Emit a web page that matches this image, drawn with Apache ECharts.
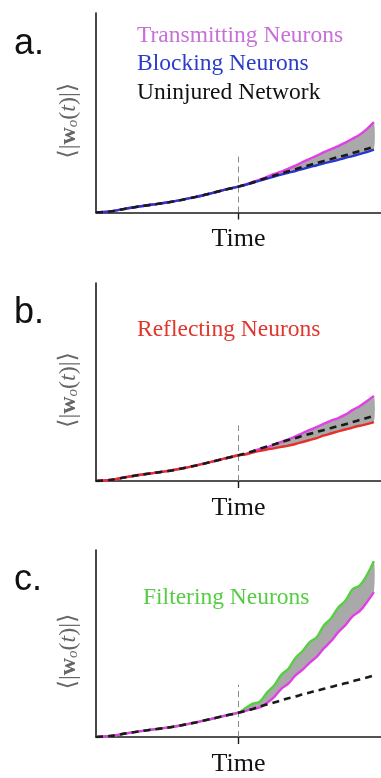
<!DOCTYPE html>
<html>
<head>
<meta charset="utf-8">
<script src="https://cdn.jsdelivr.net/npm/echarts@6/dist/echarts.min.js"></script>
<style>
html,body{margin:0;padding:0;background:#fff;}
#chart{width:381px;height:778px;}
</style>
</head>
<body>
<div id="chart"></div>
<script>
// ---- data (time in arbitrary units, y = <|w_o(t)|> in arbitrary units) ----
const time = [0,5,10,15,20,25,30,35,40,45,50,52.5,55,57.5,60,62.5,65,67.5,70,72.5,75,77.5,80,82.5,85,87.5,90,92.5,95,97.5];
const early = [0,0.05,0.18,0.3,0.4,0.5,0.63,0.78,0.95,1.13];
const uninjured = early.concat([1.3,1.4,1.5,1.63,1.74,1.85,1.96,2.07,2.17,2.28,2.38,2.48,2.58,2.68,2.78,2.87,2.98,3.08,3.18,3.3]);
const aTransmitting = early.concat([1.3,1.4,1.53,1.65,1.79,1.93,2.05,2.2,2.35,2.53,2.69,2.85,3.03,3.18,3.33,3.5,3.7,3.9,4.18,4.53]);
const aBlocking = early.concat([1.3,1.39,1.49,1.6,1.7,1.8,1.9,1.99,2.08,2.18,2.28,2.37,2.47,2.55,2.64,2.74,2.83,2.93,3.03,3.15]);
const bTransmitting = early.concat([1.3,1.35,1.5,1.62,1.7,1.84,1.98,2.1,2.25,2.42,2.58,2.73,2.9,3.05,3.18,3.35,3.58,3.78,4.03,4.3]);
const bReflecting = early.concat([1.3,1.35,1.44,1.52,1.59,1.65,1.72,1.79,1.87,1.97,2.07,2.17,2.3,2.4,2.51,2.6,2.7,2.79,2.87,2.97]);
const cFiltering = early.concat([1.3,1.55,1.78,1.9,2.38,2.75,3.33,3.65,4.23,4.6,5.08,5.35,5.98,6.35,6.93,7.28,7.9,8.1,8.65,9.4]);
const cTransmitting = early.concat([1.3,1.4,1.5,1.58,1.83,2.13,2.58,2.85,3.3,3.6,3.98,4.3,4.75,5.13,5.6,5.98,6.45,6.73,7.2,7.75]);
const injuryTime = 50;
const injuryMarkHeight = 2.8;
const xTicks = [50];
const panelLabels = ['a.', 'b.', 'c.'];
const xName = 'Time';

// ---- styling ----
const C = {
  magenta: '#e040e6', blue: '#2838cc', red: '#e6302a', green: '#55d040',
  band: '#a9a9a9', dash: '#1a1a1a', axis: '#1a1a1a'
};
const serif = '"Liberation Serif", "DejaVu Serif", serif';
const grids = [
  {left: 96, top: 13, width: 292, height: 199.5},
  {left: 96, top: 283, width: 292, height: 198},
  {left: 96, top: 550, width: 292, height: 198}
];

function pairs(ys){ return time.map((t,i)=>[t, ys[i]]); }

const xAxes = grids.map((g,i)=>({
  type:'value', gridIndex:i, min:0, max:100,
  axisLine:{show:true, lineStyle:{color:C.axis, width:1.6}},
  axisTick:{show:true, customValues:xTicks, length:7, lineStyle:{color:C.axis, width:1.4}},
  axisLabel:{show:false}, splitLine:{show:false},
  name:xName, nameLocation:'middle', nameGap:14,
  nameTextStyle:{fontFamily:serif, fontSize:26, color:'#111', verticalAlign:'top'}
}));
const yAxes = grids.map((g,i)=>({
  type:'value', gridIndex:i, min:0, max:10,
  axisLine:{show:true, lineStyle:{color:C.axis, width:1.6}},
  axisTick:{show:false}, axisLabel:{show:false}, splitLine:{show:false},
  name:'⟨|{w|w}{o|o}({i|t})|⟩', nameLocation:'middle', nameRotate:90, nameGap:15,
  nameTextStyle:{fontFamily:serif, fontSize:24, color:'#666', padding:[0,16,0,0],
    rich:{
      w:{fontFamily:serif, fontSize:24, fontWeight:'bold', color:'#666'},
      o:{fontFamily:serif, fontSize:15, fontStyle:'italic', color:'#666', verticalAlign:'bottom', padding:[7,0,0,0]},
      i:{fontFamily:serif, fontSize:24, fontStyle:'italic', color:'#666'}
    }}
}));

const series = [];
function bandSeries(gi, lower, upper){
  series.push({type:'custom', xAxisIndex:gi, yAxisIndex:gi, silent:true, z:1,
    data:[0],
    renderItem:function(params, api){
      const pts = [];
      for (let k=0;k<time.length;k++) pts.push(api.coord([time[k], upper[k]]));
      for (let k=time.length-1;k>=0;k--) pts.push(api.coord([time[k], lower[k]]));
      return {type:'polygon', shape:{points:pts, smooth:0.25}, style:{fill:C.band, stroke:null},
        clipPath:{type:'rect', shape:{x:params.coordSys.x, y:params.coordSys.y, width:params.coordSys.width, height:params.coordSys.height}}};
    }});
}
function lineSeries(gi, name, ys, color, z){
  series.push({type:'line', name, xAxisIndex:gi, yAxisIndex:gi, data:pairs(ys), symbol:'none', smooth:0.35,
    lineStyle:{color, width:2.4}, z});
}
function dashSeries(gi){
  series.push({type:'line', name:'Uninjured Network', xAxisIndex:gi, yAxisIndex:gi, data:pairs(uninjured),
    symbol:'none', smooth:0.3, lineStyle:{color:C.dash, width:2.6, type:[7,5]}, z:5,
    markLine:{silent:true, symbol:'none', label:{show:false},
      lineStyle:{color:'#8a8a8a', width:1, type:[6,4]},
      data:[[{coord:[injuryTime, 0]}, {coord:[injuryTime, injuryMarkHeight]}]]}});
}

// panel a
bandSeries(0, aBlocking, aTransmitting);
lineSeries(0, 'Transmitting Neurons', aTransmitting, C.magenta, 3);
lineSeries(0, 'Blocking Neurons', aBlocking, C.blue, 4);
dashSeries(0);
// panel b
bandSeries(1, bReflecting, bTransmitting);
lineSeries(1, 'Transmitting Neurons', bTransmitting, C.magenta, 3);
lineSeries(1, 'Reflecting Neurons', bReflecting, C.red, 4);
dashSeries(1);
// panel c
bandSeries(2, cTransmitting, cFiltering);
lineSeries(2, 'Filtering Neurons', cFiltering, C.green, 3);
lineSeries(2, 'Transmitting Neurons', cTransmitting, C.magenta, 4);
dashSeries(2);

function txt(x, y, text, color, size, family){
  return {type:'text', x, y, silent:true, z:10,
    style:{text, fill:color, fontSize:size, fontFamily:family||serif, verticalAlign:'middle', align:'left'}};
}
const graphic = [
  txt(14, 44, panelLabels[0], '#111', 36, '"Liberation Sans", Arial, sans-serif'),
  txt(14, 313, panelLabels[1], '#111', 36, '"Liberation Sans", Arial, sans-serif'),
  txt(14, 580, panelLabels[2], '#111', 36, '"Liberation Sans", Arial, sans-serif'),
  txt(137, 36, 'Transmitting Neurons', '#c870d8', 23.5),
  txt(137, 64, 'Blocking Neurons', '#2a3cc8', 23.5),
  txt(137, 93, 'Uninjured Network', '#111', 23.5),
  txt(137, 330, 'Reflecting Neurons', '#e0362c', 23.5),
  txt(143, 598, 'Filtering Neurons', '#55cc44', 23.5)
];

const chart = echarts.init(document.getElementById('chart'), null, {renderer:'canvas'});
chart.setOption({
  animation:false,
  backgroundColor:'#fff',
  grid:grids,
  xAxis:xAxes,
  yAxis:yAxes,
  series,
  graphic
});
</script>
</body>
</html>
